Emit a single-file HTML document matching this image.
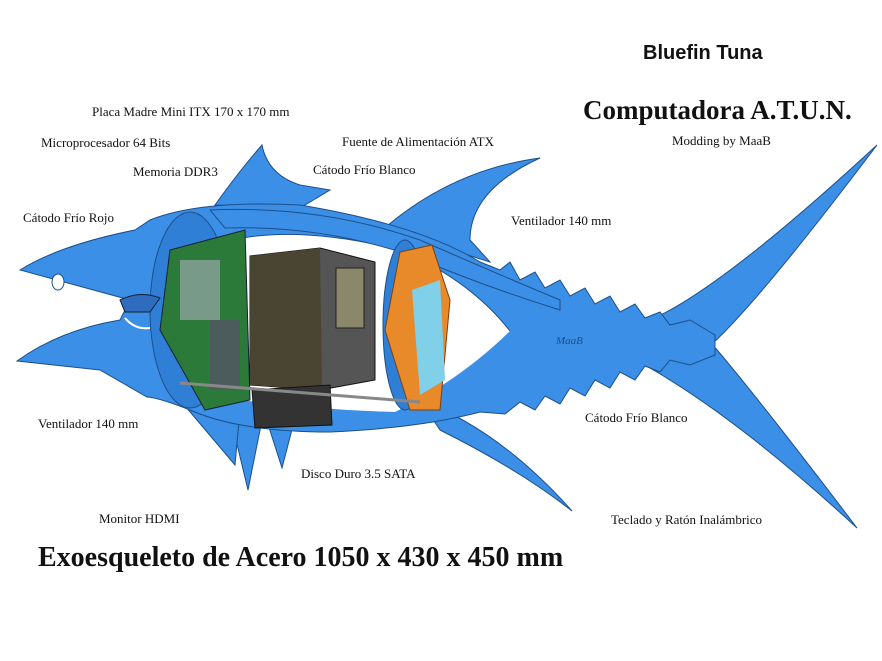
<!DOCTYPE html>
<html><head><meta charset="utf-8"><style>
body{margin:0;background:#fff;width:882px;height:661px;overflow:hidden;position:relative}
.t{position:absolute;font-family:"Liberation Serif",serif;font-size:13px;color:#111;white-space:nowrap}
</style></head><body>
<svg width="882" height="661" style="position:absolute;left:0;top:0">
<g fill="#3b8fe6" stroke="#1d4f8a" stroke-width="1">
<path d="M215,205 Q240,170 262,145 Q268,175 300,185 L330,190 L300,208 Z"/>
<path d="M380,232 Q450,170 540,158 Q470,190 470,240 L490,262 L420,240 Z"/>
<path d="M650,320 Q720,290 877,145 Q760,300 712,344 Q760,400 857,528 Q740,420 650,368 Z"/>
<path d="M420,400 Q500,430 572,511 Q520,470 440,430 Z"/>
<path d="M230,415 L248,490 L262,420 Z"/>
<path d="M265,415 L282,468 L295,418 Z"/>
<path d="M180,400 L235,465 L240,410 Z"/>
<path d="M150,220 Q200,200 300,205 Q420,225 480,262 L500,270 L510,262 L520,280 L535,272 L545,288 L560,280 L570,296 L585,288 L595,304 L610,296 L620,312 L635,304 L645,318 L660,312 L670,325 L690,320 L715,335 L715,355 L690,365 L670,360 L660,372 L645,366 L635,380 L620,372 L610,388 L595,380 L585,396 L570,388 L560,404 L545,396 L535,410 L520,402 L505,414 L480,412 Q420,428 330,432 Q240,432 190,410 Q160,398 147,397 L100,370 L17,361 Q60,330 120,320 L130,300 L20,270 Q60,245 135,230 Z"/>
</g>
<path d="M232,240 Q300,225 400,250 Q470,280 510,331 Q460,380 395,412 Q320,410 240,400 Z" fill="#fff"/>
<path d="M232,240 Q300,225 400,250 Q470,280 510,331" fill="none" stroke="#1d4f8a"/>
<path d="M210,210 Q320,205 420,240 Q500,275 560,300 L560,310 Q480,285 410,255 Q320,225 225,228 Z" fill="#3b8fe6" stroke="#1d4f8a"/>
<path d="M125,318 Q135,330 150,328" fill="none" stroke="#fff" stroke-width="2"/>
<ellipse cx="58" cy="282" rx="6" ry="8" fill="#fff" stroke="#1d4f8a"/>
<ellipse cx="190" cy="310" rx="40" ry="98" fill="#2f7fd6" stroke="#1d4f8a"/>
<path d="M170,250 L245,230 L250,400 L205,410 L160,330 Z" fill="#2b7a3a" stroke="#123"/>
<rect x="180" y="260" width="40" height="60" fill="#9aa" opacity=".7"/>
<rect x="210" y="320" width="30" height="70" fill="#556" opacity=".8"/>
<path d="M250,256 L320,248 L375,262 L375,380 L320,390 L250,385 Z" fill="#555" stroke="#111"/>
<path d="M250,256 L320,248 L322,390 L250,385 Z" fill="#4a4532"/>
<rect x="336" y="268" width="28" height="60" fill="#8a876a" stroke="#222"/>
<path d="M252,390 L330,385 L332,425 L255,428 Z" fill="#333" stroke="#111"/>
<ellipse cx="405" cy="325" rx="22" ry="85" fill="#2f7fd6" stroke="#1d4f8a"/>
<path d="M400,252 L432,245 L450,300 L440,410 L410,410 L385,330 Z" fill="#e8892a" stroke="#7a4010"/>
<path d="M412,290 L440,280 L445,380 L420,395 Z" fill="#7fd0e8"/>
<line x1="180" y1="383" x2="420" y2="402" stroke="#888" stroke-width="3"/>
<path d="M120,300 Q140,290 160,298 L150,312 L125,312 Z" fill="#2f6cc0" stroke="#123"/>
<text x="556" y="344" font-family="Liberation Serif" font-style="italic" font-size="11" fill="#1d4f8a">MaaB</text>
</svg>
<div class="t" style="left:643px;top:42px;font-family:'Liberation Sans',sans-serif;font-weight:bold;font-size:20px">Bluefin Tuna</div>
<div class="t" style="left:583px;top:95px;font-size:27px;font-weight:bold">Computadora A.T.U.N.</div>
<div class="t" style="left:672px;top:133px">Modding by MaaB</div>
<div class="t" style="left:92px;top:104px">Placa Madre Mini ITX 170 x 170 mm</div>
<div class="t" style="left:41px;top:135px">Microprocesador 64 Bits</div>
<div class="t" style="left:342px;top:134px">Fuente de Alimentación ATX</div>
<div class="t" style="left:133px;top:164px">Memoria DDR3</div>
<div class="t" style="left:313px;top:162px">Cátodo Frío Blanco</div>
<div class="t" style="left:23px;top:210px">Cátodo Frío Rojo</div>
<div class="t" style="left:511px;top:213px">Ventilador 140 mm</div>
<div class="t" style="left:38px;top:416px">Ventilador 140 mm</div>
<div class="t" style="left:585px;top:410px">Cátodo Frío Blanco</div>
<div class="t" style="left:301px;top:466px">Disco Duro 3.5 SATA</div>
<div class="t" style="left:99px;top:511px">Monitor HDMI</div>
<div class="t" style="left:611px;top:512px">Teclado y Ratón Inalámbrico</div>
<div class="t" style="left:38px;top:542px;font-size:28px;font-weight:bold">Exoesqueleto de Acero 1050 x 430 x 450 mm</div>
</body></html>
